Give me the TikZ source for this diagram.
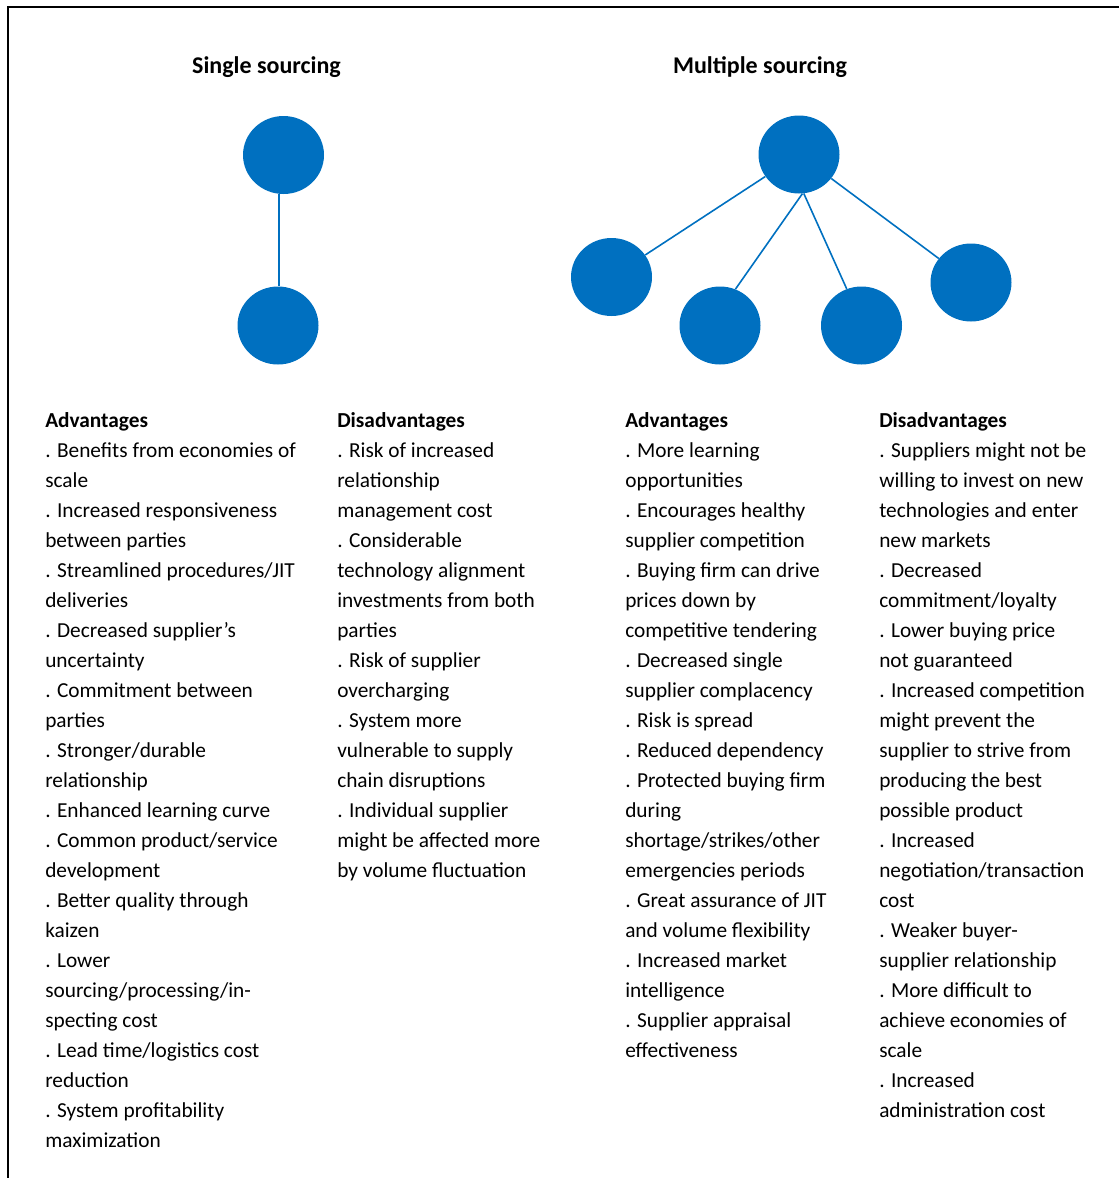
\documentclass[tikz,border=0pt]{standalone}
\usepackage{fontspec}
\setmainfont{Carlito}
\usetikzlibrary{shapes.geometric}
\definecolor{nodeblue}{RGB}{0,112,192}

\begin{document}
\begin{tikzpicture}[x=0.75pt,y=0.75pt,yscale=-1,xscale=1,
  supplier/.style={ellipse, fill=nodeblue, inner sep=0pt, minimum width=60.75pt, minimum height=58.5pt},
  tie/.style={draw=nodeblue, line width=1.2pt},
  heading/.style={inner sep=0pt, font=\fontsize{18}{22}\selectfont\bfseries},
  column/.style={anchor=base west, inner sep=0pt, align=left, font=\fontsize{16}{22.5}\selectfont}]
\useasboundingbox (0,0) rectangle (1119,1178);

%Frame (top and left edges only)
\draw [line width=1.5pt] (8,1178) -- (8,7) -- (1119,7) ;

% Text Node
\node [heading] (singletitle) at (266.5,67) {Single sourcing};
% Text Node
\node [heading] (multititle) at (760,67) {Multiple sourcing};

%Shape: Ellipse [single buyer]
\node [supplier] (sbuyer) at (283.5,155) {};
%Shape: Ellipse [single supplier]
\node [supplier] (ssupp) at (278,325.5) {};
%Straight Lines
\draw [tie] (sbuyer.south -| 279,0) -- (ssupp.north -| 279,0) ;

%Shape: Ellipse [multiple buyer]
\node [supplier] (mbuyer) at (799,154.5) {};
%Shape: Ellipse [suppliers]
\node [supplier] (msuppa) at (611.5,277) {};
\node [supplier] (msuppb) at (720,325.5) {};
\node [supplier] (msuppc) at (861.5,325.5) {};
\node [supplier] (msuppd) at (971,282.5) {};
%Straight Lines
\draw [tie] (mbuyer) -- (msuppa) ;
\draw [tie] (mbuyer.275) -- (msuppb.67) ;
\draw [tie] (mbuyer.277) -- (msuppc.112) ;
\draw [tie] (mbuyer) -- (msuppd) ;

% Text Node (placed by the baseline of its last line)
\node [column] (sadv) at (45,1147) {\textbf{Advantages}\\
. Benefits from economies of\\
scale\\
. Increased responsiveness\\
between parties\\
. Streamlined procedures/JIT\\
deliveries\\
. Decreased supplier’s\\
uncertainty\\
. Commitment between\\
parties\\
. Stronger/durable\\
relationship\\
. Enhanced learning curve\\
. Common product/service\\
development\\
. Better quality through\\
kaizen\\
. Lower\\
sourcing/processing/in-\\
specting cost\\
. Lead time/logistics cost\\
reduction\\
. System profitability\\
maximization};
% Text Node
\node [column] (sdis) at (337,877) {\textbf{Disadvantages}\\
. Risk of increased\\
relationship\\
management cost\\
. Considerable\\
technology alignment\\
investments from both\\
parties\\
. Risk of supplier\\
overcharging\\
. System more\\
vulnerable to supply\\
chain disruptions\\
. Individual supplier\\
might be affected more\\
by volume fluctuation};
% Text Node
\node [column] (madv) at (625,1057) {\textbf{Advantages}\\
. More learning\\
opportunities\\
. Encourages healthy\\
supplier competition\\
. Buying firm can drive\\
prices down by\\
competitive tendering\\
. Decreased single\\
supplier complacency\\
. Risk is spread\\
. Reduced dependency\\
. Protected buying firm\\
during\\
shortage/strikes/other\\
emergencies periods\\
. Great assurance of JIT\\
and volume flexibility\\
. Increased market\\
intelligence\\
. Supplier appraisal\\
effectiveness};
% Text Node
\node [column] (mdis) at (879,1117) {\textbf{Disadvantages}\\
. Suppliers might not be\\
willing to invest on new\\
technologies and enter\\
new markets\\
. Decreased\\
commitment/loyalty\\
. Lower buying price\\
not guaranteed\\
. Increased competition\\
might prevent the\\
supplier to strive from\\
producing the best\\
possible product\\
. Increased\\
negotiation/transaction\\
cost\\
. Weaker buyer-\\
supplier relationship\\
. More difficult to\\
achieve economies of\\
scale\\
. Increased\\
administration cost};

\end{tikzpicture}
\end{document}
